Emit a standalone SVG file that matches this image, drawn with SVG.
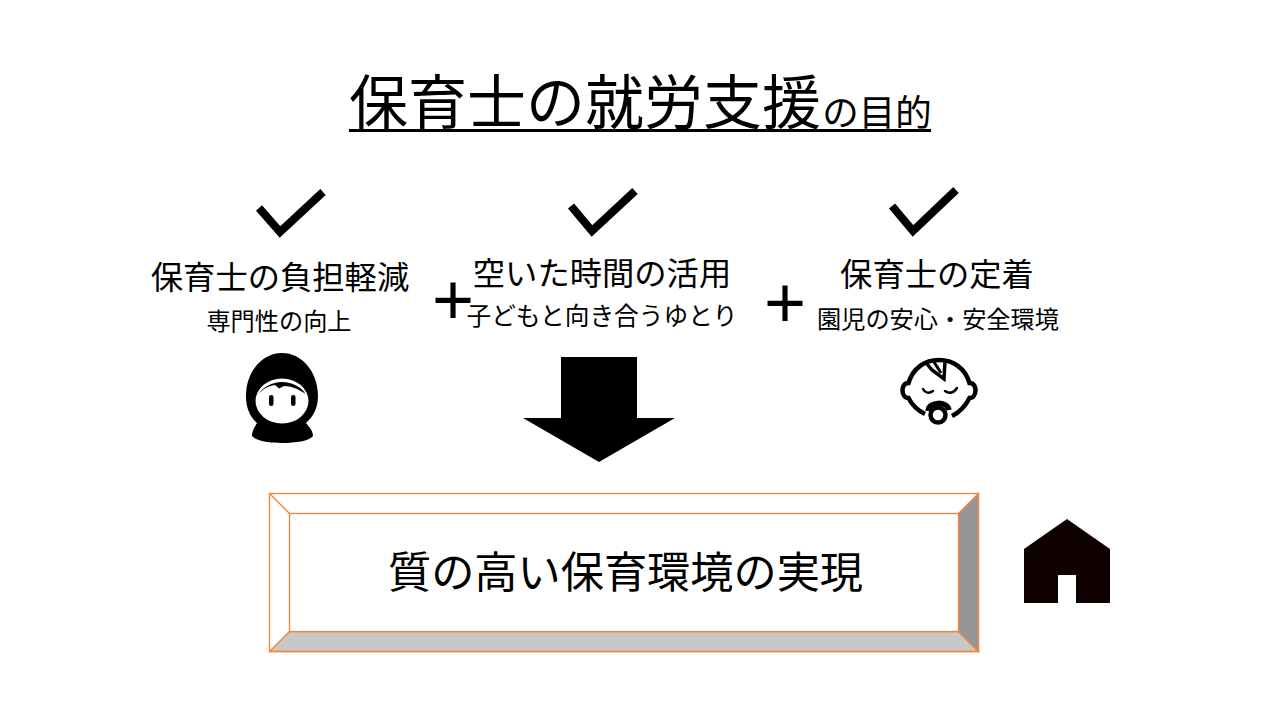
<svg xmlns="http://www.w3.org/2000/svg" width="1280" height="720" viewBox="0 0 1280 720">
<style>
text{font-family:"Noto Sans CJK JP","Noto Sans CJK SC",sans-serif;fill:#000;text-anchor:middle}
.h{font-size:32.300px}.s{font-size:24.200px}
.p{font-size:72px;font-family:"Liberation Sans",sans-serif}
.b{stroke:#f4803a;stroke-width:1.3;stroke-linejoin:miter}
.c{fill:none;stroke:#000;stroke-width:8}
</style>
<rect width="1280" height="720" fill="#fff"/>
<g id="title">
<text x="585" y="124" font-size="59">保育士の就労支援</text>
<text x="877" y="126" font-size="36.500">の目的</text>
<rect x="349" y="129" width="582" height="3" fill="#000"/>
</g>
<g id="col1">
<path class="c" d="M259 208L280 232L323 192"/>
<text class="h" x="280" y="289">保育士の負担軽減</text>
<text class="s" x="279" y="330">専門性の向上</text>
<g id="woman">
<path d="M282 353C262 353 246 372 246 396C246 408 250 417 257 423C254 428 252 431 252 436C256 441 268 443 282 443C296 443 309 441 313 436C313 431 310 428 306 423C313 417 318 408 318 396C318 372 302 353 282 353Z" fill="#000"/>
<ellipse cx="282" cy="401" rx="26.500" ry="22.500" fill="#fff"/>
<path d="M258.500 394C263 387 272 382 282 382C292 382 302 387 305.500 394C299 389 291 386 284 386L279 388.500L275 385C268 386 263 389 258.500 394Z" fill="#000"/>
<rect x="269" y="395" width="4.500" height="11" rx="2.200" fill="#000"/>
<rect x="291" y="395" width="4.500" height="11" rx="2.200" fill="#000"/>
</g>
</g>
<g id="plus1"><text class="p" x="453" y="324">+</text></g>
<g id="col2">
<path class="c" d="M571 206L592 231L635 191"/>
<text class="h" x="602" y="285">空いた時間の活用</text>
<text x="602" y="325" style="font-size:24.700px">子どもと向き合うゆとり</text>
</g>
<g id="plus2"><text class="p" x="785" y="327">+</text></g>
<g id="col3">
<path class="c" d="M892 206L913 231L956 190"/>
<text class="h" x="937" y="286">保育士の定着</text>
<text class="s" x="938" y="328">園児の安心・安全環境</text>
<g id="baby" fill="none" stroke="#000" stroke-width="4.500">
<path d="M925 414C917 410 912 405 908.500 398C901 398 900 383 908.500 383C913 368 925 360 939 360C953 360 965 368 969.500 383C978 383 977 398 969.500 398C966 405 960 412 952 416"/>
<path d="M927 364L932 370L944 379L945 361" stroke-width="3.500"/>
<path d="M934 362L941 373" stroke-width="3"/>
<path d="M923 389C925 393 929 394 933 391M945 391C949 394 954 393 957 388" stroke-width="2.500" stroke-linecap="round"/>
<path d="M928 411C929 401 947 401 949 410" stroke-width="5.500"/>
<circle cx="938" cy="415" r="7.500"/>
</g>
</g>
<g id="connectors">
<path d="M561 357H637V418H675L599 462L523 418H561Z" fill="#000"/>
</g>
<g id="result">
<rect class="b" x="269.500" y="493.500" width="709" height="158" fill="#fff"/>
<path class="b" d="M269.500 651.500L289.500 631.500H958.500L978.500 651.500Z" fill="#c8c8c8"/>
<path class="b" d="M978.500 493.500L958.500 513.500V631.500L978.500 651.500Z" fill="#969696"/>
<path class="b" d="M269.500 493.500L289.500 513.500" fill="none"/>
<rect class="b" x="289.500" y="513.500" width="669" height="118" fill="#fff"/>
<text x="625.500" y="588" font-size="43.200">質の高い保育環境の実現</text>
</g>
<g id="house">
<path fill-rule="evenodd" d="M1067 519L1110 549V603H1076V575H1058V603H1024V549Z" fill="#0e0000"/>
</g>
</svg>
